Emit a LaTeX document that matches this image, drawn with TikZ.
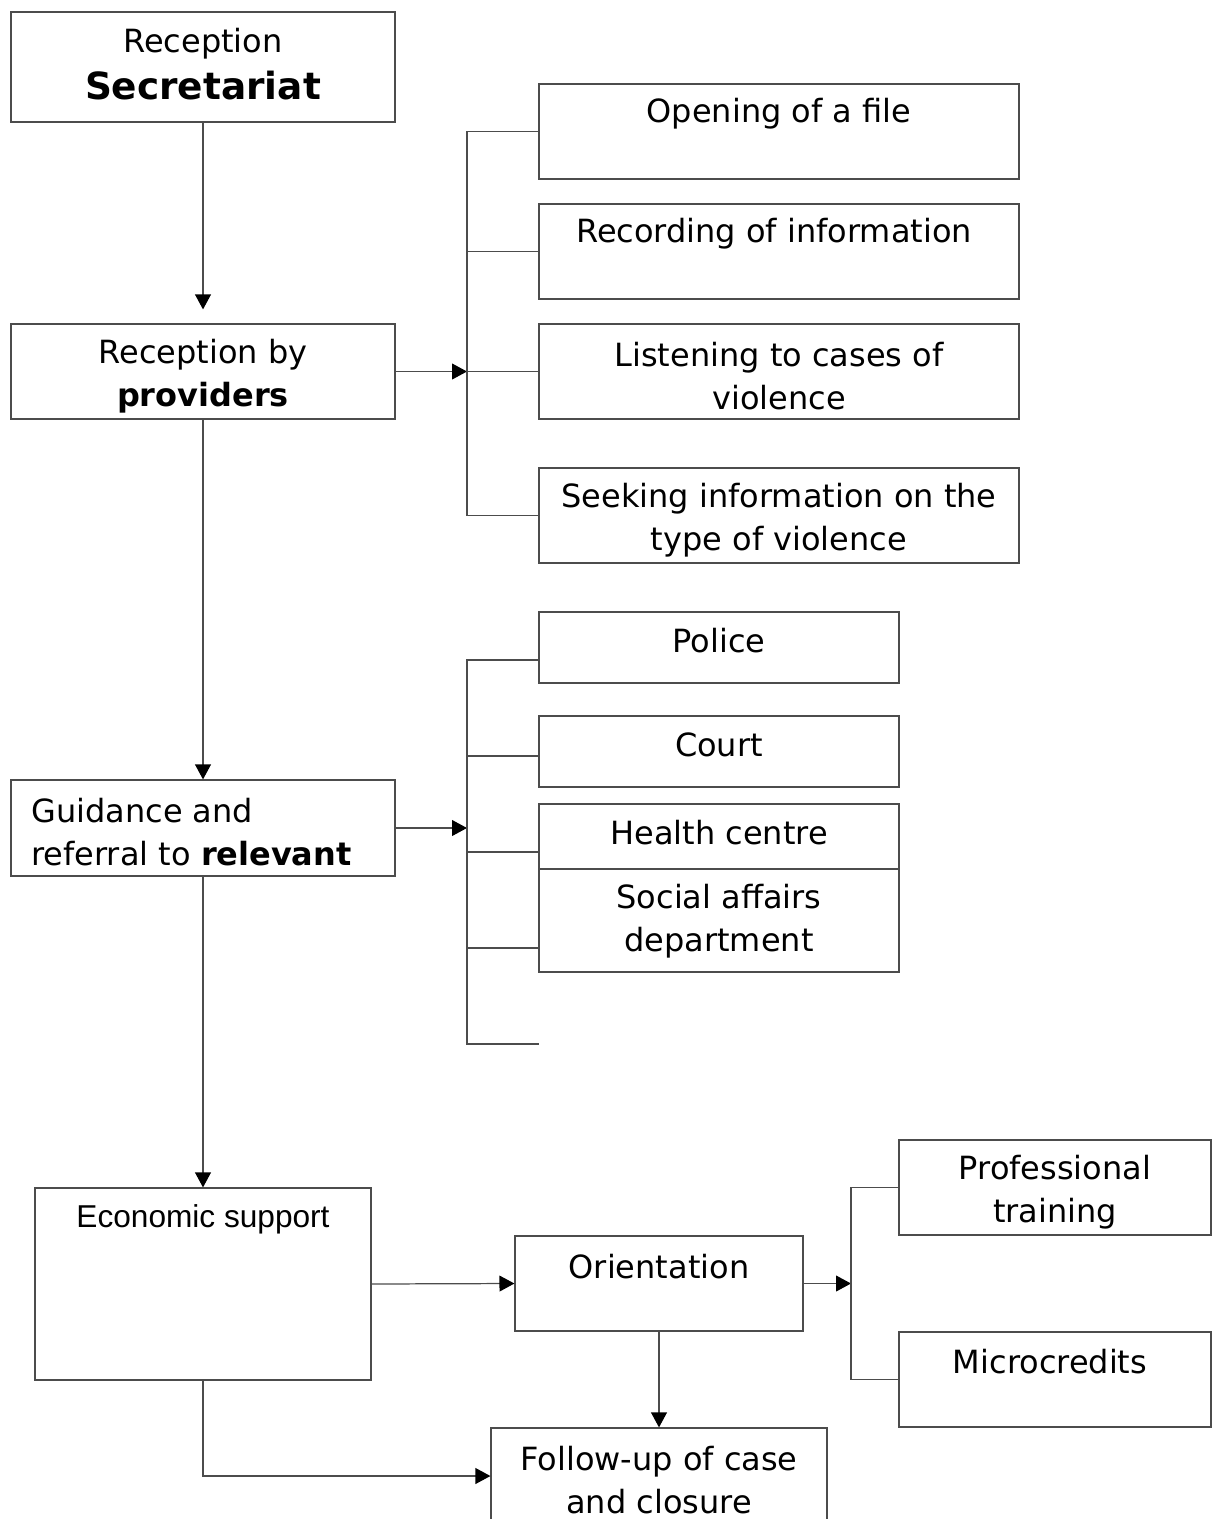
\documentclass[tikz,border=0pt]{standalone}
\usepackage{fontspec}
\setmainfont{DejaVu Sans}
\newfontfamily\arialfont{Liberation Sans}
\usetikzlibrary{arrows.meta, positioning}

\begin{document}
\begin{tikzpicture}[x=0.02cm, y=-0.02cm,
	box/.style={draw=black!70, line width=0.7pt, inner sep=0pt},
	txt/.style={font=\fontsize{18.2pt}{24.4pt}\selectfont, align=center, inner sep=0pt},
	link/.style={draw=black!70, line width=0.7pt},
	arr/.style={link, -{Triangle[length=8.5pt, width=9pt, color=black]}}]
		\useasboundingbox (0,0) rectangle (1216,1519);
		
		% Main column
		\node[box, minimum width=7.68cm, minimum height=2.2cm] (sec) at (203,67) {};
		\node[box, minimum width=7.68cm, minimum height=1.9cm] (prov) at (203,371.5) {};
		\node[box, minimum width=7.68cm, minimum height=1.92cm] (guid) at (203,828) {};
		\node[box, minimum width=6.72cm, minimum height=3.84cm] (econ) at (203,1284) {};
		\node[box, minimum width=5.76cm, minimum height=1.9cm] (orient) at (659,1283.5) {};
		\node[box, minimum width=6.72cm, minimum height=1.92cm] (follow) at (659,1476) {};
		
		\node[txt] (sec-t) at (203,64) {Reception\\[2pt]\fontsize{21.3pt}{26pt}\selectfont\bfseries Secretariat};
		\node[txt] (prov-t) at (203,376) {Reception by\\\textbf{providers}};
		\node[txt, align=left, anchor=west] (guid-t) at (31,832) {Guidance and\\referral to \textbf{relevant}};
		\node[txt, font=\arialfont\fontsize{18pt}{24pt}\selectfont] (econ-t) at (203,1219) {Economic support};
		\node[txt] (orient-t) at (659,1267) {Orientation};
		\node[txt] (follow-t) at (659,1480) {Follow-up of case\\and closure};
		
		% First group
		\node[box, minimum width=9.6cm, minimum height=1.9cm] (open) at (779,131.5) {};
		\node[box, minimum width=9.6cm, minimum height=1.9cm] (rec) at (779,251.5) {};
		\node[box, minimum width=9.6cm, minimum height=1.9cm] (listen) at (779,371.5) {};
		\node[box, minimum width=9.6cm, minimum height=1.9cm] (seek) at (779,515.5) {};
		
		\node[txt] (open-t) at (779,114) {Opening of a file};
		\node[txt] (rec-t) at (774,234) {Recording of information};
		\node[txt] (listen-t) at (779,376) {Listening to cases of\\violence};
		\node[txt] (seek-t) at (779,520) {Seeking information on the\\type of violence};
		
		% Second group
		\node[box, minimum width=7.2cm, minimum height=1.42cm] (police) at (719,647.5) {};
		\node[box, minimum width=7.2cm, minimum height=1.42cm] (court) at (719,751.5) {};
		\node[box, minimum width=7.2cm, minimum height=1.3cm] (health) at (719,836.5) {};
		\node[box, minimum width=7.2cm, minimum height=2.06cm] (social) at (719,920.5) {};
		
		\node[txt] (police-t) at (719,641) {Police};
		\node[txt] (court-t) at (719,745) {Court};
		\node[txt] (health-t) at (719,833) {Health centre};
		\node[txt] (social-t) at (719,921) {Social affairs\\department};
		
		% Third group
		\node[box, minimum width=6.24cm, minimum height=1.9cm] (prof) at (1055,1187.5) {};
		\node[box, minimum width=6.24cm, minimum height=1.9cm] (micro) at (1055,1379.5) {};
		
		\node[txt] (prof-t) at (1055,1192) {Professional\\training};
		\node[txt] (micro-t) at (1050,1362) {Microcredits};
		
		% Hubs of the brackets
		\coordinate (hubA) at (467,371.5);
		\coordinate (hubB) at (467,828);
		\coordinate (hubC) at (851,1283.5);
		\coordinate (polB) at (539,660);
		\coordinate (courtB) at (539,756);
		\coordinate (healthB) at (539,852);
		\coordinate (socialB) at (539,948);
		\coordinate (endB) at (539,1044);
		\coordinate (turn) at (203,1476);
		
		% Arrows down the main column
		\draw[arr, shorten >=0.28cm] (sec.south) -- (prov.north);
		\draw[arr] (prov.south) -- (guid.north);
		\draw[arr] (guid.south) -- (econ.north);
		\draw[arr] (econ.east) -- (orient.west);
		\draw[arr] (orient.south) -- (follow.north);
		\draw[arr] (econ.south) -- (turn) -- (follow.west);
		
		% Bracket A
		\draw[arr] (prov.east) -- (hubA);
		\draw[link] (open.west) -| (hubA |- seek.west) -- (seek.west);
		\draw[link] (rec.west) -- (rec.west -| hubA);
		\draw[link] (listen.west) -- (hubA);
		
		% Bracket B
		\draw[arr] (guid.east) -- (hubB);
		\draw[link] (polB) -| (hubB |- endB) -- (endB);
		\draw[link] (courtB) -- (courtB -| hubB);
		\draw[link] (healthB) -- (healthB -| hubB);
		\draw[link] (socialB) -- (socialB -| hubB);
		
		% Bracket C
		\draw[arr] (orient.east) -- (hubC);
		\draw[link] (prof.west) -| (hubC |- micro.west) -- (micro.west);
\end{tikzpicture}
\end{document}
